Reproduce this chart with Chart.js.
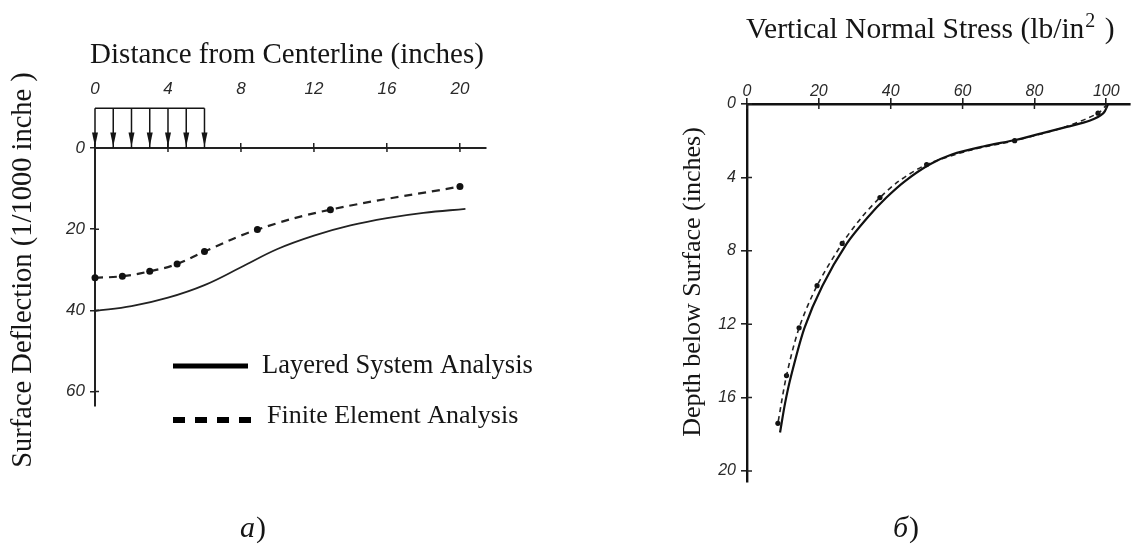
<!DOCTYPE html>
<html>
<head>
<meta charset="utf-8">
<script src="https://cdn.jsdelivr.net/npm/chart.js@4.4.0/dist/chart.umd.min.js"></script>
<style>
  body { margin: 0; background: #fff; width: 1134px; height: 546px; overflow: hidden; position: relative; }
  #chartA { position: absolute; left: 0; top: 0; }
  #chartB { position: absolute; left: 560px; top: 0; }
</style>
</head>
<body>
<canvas id="chartA" width="560" height="546"></canvas>
<canvas id="chartB" width="574" height="546"></canvas>
<script>
// panel a: surface deflection
const distTicks = [0, 4, 8, 12, 16, 20];
const deflTicks = [0, 20, 40, 60];
const layeredX = [0, 2, 4, 6, 8, 10, 12, 14, 16, 18, 20.3];
const layeredY = [40.2, 39.0, 36.9, 33.8, 29.4, 24.9, 21.6, 19.1, 17.3, 16.0, 15.0];
const feX = [0, 1.5, 3, 4.5, 6, 8.9, 12.9, 20];
const feY = [32.0, 31.6, 30.4, 28.6, 25.5, 20.1, 15.2, 9.5];
const loadX = [0, 1, 2, 3, 4, 5, 6];
const loadTop = -9.8;
const seriesNames = ['Layered System Analysis', 'Finite Element Analysis'];

// panel б: vertical normal stress vs depth
const stressTicks = [0, 20, 40, 60, 80, 100];
const depthTicks = [0, 4, 8, 12, 16, 20];
const layerDepth = [0, 0.5, 0.9, 1.25, 1.6, 1.95, 2.3, 2.75, 3.3, 4.2, 5.1, 6.2, 7.6, 9.9, 12.2, 14.8, 16.3, 17.9];
const layerStress = [100.5, 99.2, 95.5, 89, 82, 75, 66, 57, 50.8, 44, 38.8, 33.5, 27.8, 21.0, 16.0, 12.3, 10.6, 9.2];
const feDepth = [0, 0.5, 1.25, 2.0, 2.5, 3.3, 4.2, 5.1, 6.2, 7.6, 9.9, 12.2, 14.8, 17.4];
const feStress = [100.3, 97.7, 88.5, 74.5, 62.5, 50.0, 42.3, 37.0, 31.8, 26.5, 19.5, 14.5, 11.0, 8.6];
const feMarkDepth = [0.5, 2.0, 3.3, 5.1, 7.6, 9.9, 12.2, 14.8, 17.4];
const feMarkStress = [97.7, 74.5, 50.0, 37.0, 26.5, 19.5, 14.5, 11.0, 8.6];

const pts = (xs, ys) => xs.map((x, i) => ({ x: x, y: ys[i] }));
const ink = '#151515';
const tickFont = { family: 'Liberation Sans', style: 'italic', size: 17 };
const tickFontB = { family: 'Liberation Sans', style: 'italic', size: 16 };

const fixTicks = (vals) => (s) => { s.ticks = vals.map(v => ({ value: v })); };

// small tick marks on the inner side, so ticks cross the axis lines
const innerTicks = (chart, len) => {
  const c = chart.ctx;
  const sx = chart.scales.x, sy = chart.scales.y;
  c.save();
  c.strokeStyle = '#222';
  c.lineWidth = 1.5;
  c.beginPath();
  sx.ticks.forEach(t => {
    const px = sx.getPixelForValue(t.value);
    c.moveTo(px, sy.top); c.lineTo(px, sy.top + len);
  });
  sy.ticks.forEach(t => {
    const py = sy.getPixelForValue(t.value);
    c.moveTo(sx.left, py); c.lineTo(sx.left + len, py);
  });
  c.stroke();
  c.restore();
};

// load arrowheads, text, legend and caption for panel a
const textA = {
  id: 'textA',
  afterDatasetsDraw(chart) {
    const c = chart.ctx;
    const sx = chart.scales.x, sy = chart.scales.y;
    innerTicks(chart, 4);
    c.save();
    c.fillStyle = ink;
    loadX.forEach(v => {
      const px = sx.getPixelForValue(v);
      const top = sy.getPixelForValue(-3.8);
      const tip = sy.getPixelForValue(-0.4);
      c.beginPath();
      c.moveTo(px - 3, top);
      c.lineTo(px + 3, top);
      c.lineTo(px, tip);
      c.closePath();
      c.fill();
    });
    c.restore();
  },
  afterDraw(chart) {
    const c = chart.ctx;
    c.save();
    c.fillStyle = ink;
    c.textBaseline = 'alphabetic';
    c.textAlign = 'center';
    c.font = '29px "Liberation Serif"';
    c.fillText('Distance from Centerline (inches)', 287, 63);

    c.save();
    c.translate(31, 270);
    c.rotate(-Math.PI / 2);
    c.font = '28.5px "Liberation Serif"';
    c.fillText('Surface Deflection (1/1000 inche )', 0, 0);
    c.restore();

    // legend
    const ds = chart.data.datasets;
    c.strokeStyle = '#000';
    c.lineWidth = 5;
    c.beginPath(); c.moveTo(173, 366); c.lineTo(248, 366); c.stroke();
    c.lineWidth = 6;
    c.setLineDash([12, 10]);
    c.beginPath(); c.moveTo(173, 420); c.lineTo(251, 420); c.stroke();
    c.setLineDash([]);
    c.textAlign = 'left';
    c.font = '26.5px "Liberation Serif"';
    c.fillText(ds[0].label, 262, 373);
    c.font = '26px "Liberation Serif"';
    c.fillText(ds[1].label, 267, 423);

    // caption
    c.font = 'italic 30px "Liberation Serif"';
    c.fillText('а', 240, 537);
    const w = c.measureText('а').width;
    c.font = '30px "Liberation Serif"';
    c.fillText(')', 240 + w + 1, 537);
    c.restore();
  }
};

const textB = {
  id: 'textB',
  afterDatasetsDraw(chart) {
    innerTicks(chart, 5);
  },
  afterDraw(chart) {
    const c = chart.ctx;
    c.save();
    c.fillStyle = ink;
    c.textBaseline = 'alphabetic';
    c.textAlign = 'left';
    let x = 186;
    c.font = '29.5px "Liberation Serif"';
    const main = 'Vertical Normal Stress (lb/in';
    c.fillText(main, x, 38);
    x += c.measureText(main).width + 1;
    c.font = '20px "Liberation Serif"';
    c.fillText('2', x, 27);
    x += c.measureText('2').width + 2;
    c.font = '29.5px "Liberation Serif"';
    c.fillText(' )', x, 38);

    c.save();
    c.translate(140, 282);
    c.rotate(-Math.PI / 2);
    c.textAlign = 'center';
    c.font = '26px "Liberation Serif"';
    c.fillText('Depth below Surface (inches)', 0, 0);
    c.restore();

    c.font = 'italic 30px "Liberation Serif"';
    c.fillText('б', 333, 537);
    const w = c.measureText('б').width;
    c.font = '30px "Liberation Serif"';
    c.fillText(')', 333 + w + 1, 537);
    c.restore();
  }
};

const loadSets = loadX.map(x => ({
  data: [{ x: x, y: loadTop }, { x: x, y: 0 }],
  showLine: true, borderColor: ink, borderWidth: 1.5, pointRadius: 0, clip: false
}));

new Chart(document.getElementById('chartA'), {
  type: 'scatter',
  data: {
    datasets: [
      { label: seriesNames[0], data: pts(layeredX, layeredY), showLine: true,
        borderColor: '#222', borderWidth: 1.8, pointRadius: 0, tension: 0.4, clip: false },
      { label: seriesNames[1], data: pts(feX, feY), showLine: true,
        borderColor: '#222', borderWidth: 2.2, borderDash: [8, 6], tension: 0.4,
        pointRadius: 3.5, pointBackgroundColor: '#111', pointBorderWidth: 0, clip: false },
      { data: [{ x: loadX[0], y: loadTop }, { x: loadX[loadX.length - 1], y: loadTop }],
        showLine: true, borderColor: ink, borderWidth: 1.3, pointRadius: 0, clip: false },
      ...loadSets
    ]
  },
  options: {
    responsive: false,
    animation: false,
    layout: { padding: { left: 0, top: 0, right: 74.5, bottom: 140.4 } },
    plugins: { legend: { display: false }, tooltip: { enabled: false } },
    scales: {
      x: {
        type: 'linear', position: 'top', min: 0, max: 21.4,
        afterBuildTicks: fixTicks(distTicks),
        afterFit: (s) => { s.height = 148; },
        grid: { drawOnChartArea: false, tickLength: 5, color: '#222', lineWidth: 1.5 },
        border: { color: '#222', width: 2 },
        ticks: { padding: 44, font: tickFont, color: '#2a2a2a', maxRotation: 0, autoSkip: false }
      },
      y: {
        type: 'linear', position: 'left', min: 0, max: 63.5, reverse: true,
        afterBuildTicks: fixTicks(deflTicks),
        afterFit: (s) => { s.width = 95; },
        grid: { drawOnChartArea: false, tickLength: 5, color: '#222', lineWidth: 1.5 },
        border: { color: '#222', width: 2 },
        ticks: { padding: 5, font: tickFont, color: '#2a2a2a', autoSkip: false }
      }
    }
  },
  plugins: [textA]
});

new Chart(document.getElementById('chartB'), {
  type: 'scatter',
  data: {
    datasets: [
      { label: seriesNames[0], data: pts(layerStress, layerDepth), showLine: true,
        borderColor: '#111', borderWidth: 2.2, pointRadius: 0, tension: 0.3, clip: false },
      { label: seriesNames[1], data: pts(feStress, feDepth), showLine: true,
        borderColor: '#222', borderWidth: 1.6, borderDash: [5, 4], pointRadius: 0, tension: 0.3, clip: false },
      { data: pts(feMarkStress, feMarkDepth), showLine: false,
        pointRadius: 2.6, pointBackgroundColor: '#111', pointBorderWidth: 0, clip: false }
    ]
  },
  options: {
    responsive: false,
    animation: false,
    layout: { padding: { left: 0, top: 0, right: 0, bottom: 64 } },
    plugins: { legend: { display: false }, tooltip: { enabled: false } },
    scales: {
      x: {
        type: 'linear', position: 'top', min: 0, max: 106.6,
        afterBuildTicks: fixTicks(stressTicks),
        afterFit: (s) => { s.height = 104; },
        grid: { drawOnChartArea: false, tickLength: 6, color: '#222', lineWidth: 1.6 },
        border: { color: '#111', width: 2.4 },
        ticks: { padding: -3, font: tickFontB, color: '#2a2a2a', maxRotation: 0, autoSkip: false }
      },
      y: {
        type: 'linear', position: 'left', min: 0, max: 20.6, reverse: true,
        afterBuildTicks: fixTicks(depthTicks),
        afterFit: (s) => { s.width = 187; },
        grid: { drawOnChartArea: false, tickLength: 6, color: '#222', lineWidth: 1.6 },
        border: { color: '#111', width: 2.4 },
        ticks: { padding: 5, font: tickFontB, color: '#2a2a2a', autoSkip: false }
      }
    }
  },
  plugins: [textB]
});
</script>
</body>
</html>
